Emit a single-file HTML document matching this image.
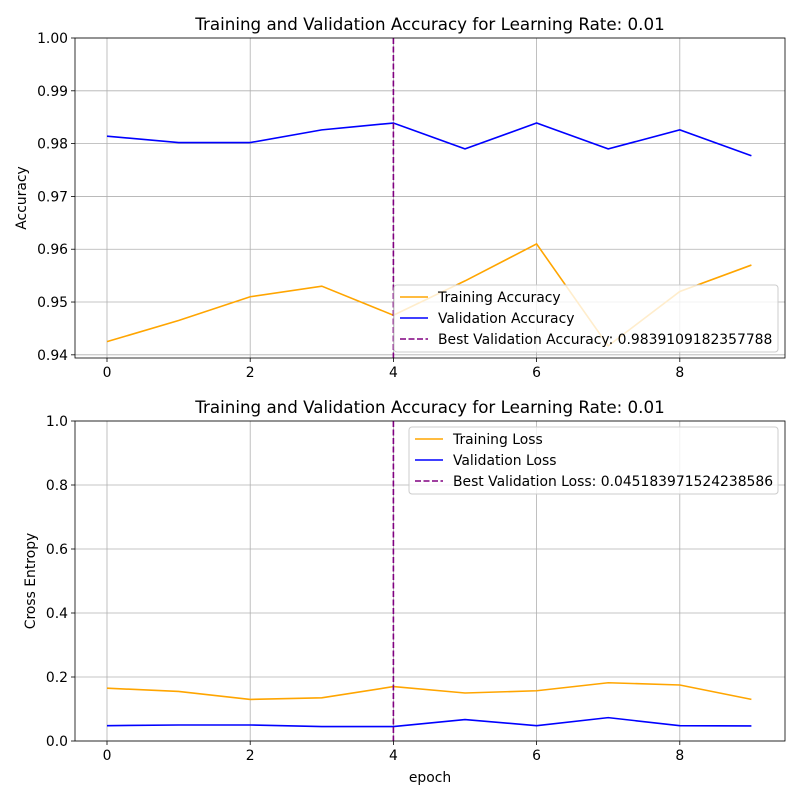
<!DOCTYPE html>
<html><head><meta charset="utf-8"><style>
body{margin:0;background:#fff}
svg{font-family:"DejaVu Sans","Liberation Sans",sans-serif}
</style></head><body>
<svg id="c" width="800" height="800" xmlns="http://www.w3.org/2000/svg"></svg>
<script>
const epochs=[0,1,2,3,4,5,6,7,8,9];
const trainAcc=[0.9425,0.9465,0.951,0.953,0.9475,0.954,0.961,0.9417,0.952,0.957];
const valAcc=[0.9814,0.9802,0.9802,0.9826,0.9839,0.9790,0.9839,0.9790,0.9826,0.9777];
const trainLoss=[0.165,0.155,0.13,0.135,0.17,0.15,0.157,0.182,0.175,0.13];
const valLoss=[0.048,0.05,0.05,0.045,0.045,0.067,0.048,0.073,0.048,0.047];
const xTicks=[0,2,4,6,8];
const accTicks=[0.94,0.95,0.96,0.97,0.98,0.99,1.00];
const lossTicks=[0,0.2,0.4,0.6,0.8,1.0];
const bestEpoch=4;
const FS=13.9;
const NS="http://www.w3.org/2000/svg";
const svg=document.getElementById('c');
function mk(t,a,p){const e=document.createElementNS(NS,t);for(const k in a)e.setAttribute(k,a[k]);(p||svg).appendChild(e);return e;}
function xs(v){return 107+(v)*71.6;}
function panel(top,yMin,yMax,yTicks,dec,tr,va,labels,title,ylabel,legY,legX){
  const L=75,R=785,T=top,B=top+320;
  const ys=v=>B-(v-yMin)/(yMax-yMin)*320;
  const g=mk('g',{});
  
  
  xTicks.forEach(t=>{const x=xs(t);mk('line',{x1:x,x2:x,y1:T,y2:B,stroke:'#b0b0b0','stroke-width':0.8},g);
    mk('line',{x1:x,x2:x,y1:B,y2:B+4,stroke:'#000','stroke-width':0.8},g);
    const tx=mk('text',{x:x,y:B+19,'font-size':FS,'text-anchor':'middle'},g);tx.textContent=t;
    });
  yTicks.forEach(t=>{const y=ys(t);mk('line',{x1:L,x2:R,y1:y,y2:y,stroke:'#b0b0b0','stroke-width':0.8},g);
    mk('line',{x1:L-4,x2:L,y1:y,y2:y,stroke:'#000','stroke-width':0.8},g);
    const tx=mk('text',{x:L-7,y:y+5,'font-size':FS,'text-anchor':'end'},g);tx.textContent=t.toFixed(dec);
    });
  const pts=a=>a.map((v,i)=>xs(epochs[i])+','+ys(v)).join(' ');
  const l1=mk('polyline',{points:pts(tr),fill:'none',stroke:'orange','stroke-width':1.6},g);
  
  const l2=mk('polyline',{points:pts(va),fill:'none',stroke:'blue','stroke-width':1.6},g);
  
  const bx=xs(bestEpoch);
  const bl=mk('line',{x1:bx,x2:bx,y1:T,y2:B,stroke:'purple','stroke-width':1.6,'stroke-dasharray':'6,2.5'},g);
  
  mk('rect',{x:L,y:T,width:R-L,height:320,fill:'none',stroke:'#000','stroke-width':0.8},g);
  const tt=mk('text',{x:(L+R)/2,y:T-8,'font-size':16.7,'text-anchor':'middle'},g);tt.textContent=title;
  
  const yl=mk('text',{x:0,y:0,'font-size':FS,'text-anchor':'middle',transform:`translate(${ylabel==='Accuracy'?26:35},${(T+B)/2}) rotate(-90)`},g);yl.textContent=ylabel;
  
  const lg=mk('g',{},g);
  mk('rect',{x:legX,y:legY,width:778-legX,height:67,rx:3,fill:'#fff','fill-opacity':0.8,stroke:'#ccc'},lg);
  const cols=['orange','blue','purple'];
  labels.forEach((s,i)=>{const y=legY+12+i*21;
    mk('line',{x1:legX+6,x2:legX+34,y1:y,y2:y,stroke:cols[i],'stroke-width':1.6,'stroke-dasharray':i==2?'6,2.5':'none'},lg);
    const t=mk('text',{x:legX+44,y:y+5,'font-size':FS},lg);t.textContent=s;
    });
}
panel(38,0.9394,1.0,accTicks,2,trainAcc,valAcc,['Training Accuracy','Validation Accuracy','Best Validation Accuracy: 0.9839109182357788'],'Training and Validation Accuracy for Learning Rate: 0.01','Accuracy',285,394);
panel(421,0,1.0,lossTicks,1,trainLoss,valLoss,['Training Loss','Validation Loss','Best Validation Loss: 0.045183971524238586'],'Training and Validation Accuracy for Learning Rate: 0.01','Cross Entropy',427,409);
const xl=mk('text',{x:430,y:782,'font-size':FS,'text-anchor':'middle'});xl.textContent='epoch';

</script>
</body></html>
